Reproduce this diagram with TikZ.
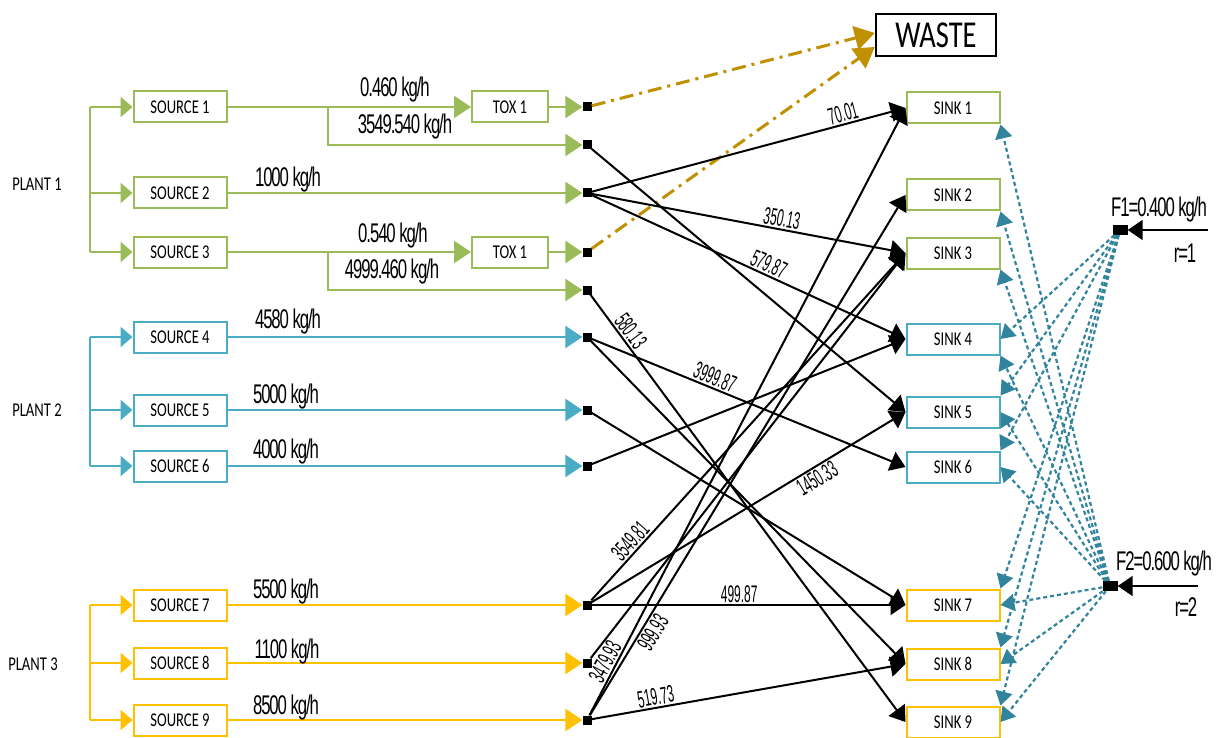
\documentclass[tikz,border=0pt]{standalone}
\usepackage{fontspec}
\usepackage{tikz}
\usetikzlibrary{arrows.meta,calc}
\newfontfamily\boxfont[FakeStretch=0.75]{Carlito}
\newfontfamily\flowfont[FakeStretch=0.62,LetterSpace=-4]{Liberation Sans}
\newfontfamily\valfont[FakeStretch=0.5]{Liberation Sans}
\definecolor{plantgreen}{HTML}{9BBB59}
\definecolor{plantblue}{HTML}{4BACC6}
\definecolor{plantyellow}{HTML}{FFC000}
\definecolor{wastegold}{HTML}{BF9000}
\definecolor{freshteal}{HTML}{31849B}
\newcommand{\boxw}{93pt}
\newcommand{\boxh}{31pt}

\begin{document}
\begin{tikzpicture}[x=1pt,y=-1pt]
    \tikzset{
        unitbox/.style = {draw, line width=2pt, fill=white, minimum width=\boxw, minimum height=\boxh, inner sep=0pt, font=\boxfont\fontsize{19.5}{19.5}\selectfont},
        greenbox/.style = {unitbox, draw=plantgreen},
        bluebox/.style = {unitbox, draw=plantblue},
        yellowbox/.style = {unitbox, draw=plantyellow},
        toxbox/.style = {greenbox, minimum width=76pt},
        plantlabel/.style = {inner sep=0pt, font=\boxfont\fontsize{19.5}{19.5}\selectfont},
        mixer/.style = {fill=black, minimum size=9pt, inner sep=0pt},
        feed/.style = {line width=2.5pt, -{Triangle[length=12pt,width=20pt]}},
        flow/.style = {line width=2.5pt, -{Triangle[length=17pt,width=22pt]}},
        trunk/.style = {line width=2.5pt},
        flowlabel/.style = {inner sep=0pt, font=\flowfont\fontsize{27}{27}\selectfont},
        link/.style = {line width=2pt, -{Triangle[length=15pt,width=20pt]}},
        value/.style = {sloped, inner sep=1.5pt, font=\valfont\fontsize{24}{24}\selectfont},
        toxic/.style = {wastegold, line width=3pt, dash pattern=on 14pt off 6pt on 3pt off 6pt, -{Triangle[length=20pt,width=24pt]}},
        fresh/.style = {freshteal, line width=2.2pt, dash pattern=on 4pt off 3pt, -{Triangle[length=14pt,width=17pt]}}
    }
    %\draw[help lines] (0,0) grid[step=50] (1223,738);
    \fill[white] (0,0) rectangle (1223,738);
    \useasboundingbox (0,0) rectangle (1223,738);

    % plants
    \node[plantlabel] (plant1) at (37,184) {PLANT 1};
    \node[plantlabel] (plant2) at (37,410) {PLANT 2};
    \node[plantlabel] (plant3) at (33,664) {PLANT 3};
    \coordinate (p1trunk) at (90,107);
    \coordinate (p2trunk) at (90,337);
    \coordinate (p3trunk) at (90,605);

    % sources
    \node[greenbox] (s1) at (180,107) {SOURCE 1};
    \node[greenbox] (s2) at (180,193) {SOURCE 2};
    \node[greenbox] (s3) at (180,252) {SOURCE 3};
    \node[bluebox] (s4) at (180,337) {SOURCE 4};
    \node[bluebox] (s5) at (180,410) {SOURCE 5};
    \node[bluebox] (s6) at (180,466) {SOURCE 6};
    \node[yellowbox] (s7) at (180,605) {SOURCE 7};
    \node[yellowbox] (s8) at (180,663) {SOURCE 8};
    \node[yellowbox] (s9) at (180,720) {SOURCE 9};

    \node[toxbox] (t1) at (510,107) {TOX 1};
    \node[toxbox] (t3) at (510,252) {TOX 1};

    % mixing points
    \node[mixer] (q1) at (587,107) {};
    \node[mixer] (q1b) at (587,145) {};
    \node[mixer] (q2) at (587,193) {};
    \node[mixer] (q3) at (587,252) {};
    \node[mixer] (q3b) at (587,290) {};
    \node[mixer] (q4) at (587,337) {};
    \node[mixer] (q5) at (587,410) {};
    \node[mixer] (q6) at (587,466) {};
    \node[mixer] (q7) at (587,605) {};
    \node[mixer] (q8) at (587,663) {};
    \node[mixer] (q9) at (587,720) {};
    \coordinate (br1) at (328,107);
    \coordinate (br3) at (328,252);

    % sinks
    \node[greenbox] (sink1) at (953,108) {SINK 1};
    \node[greenbox] (sink2) at (953,195) {SINK 2};
    \node[greenbox] (sink3) at (953,253) {SINK 3};
    \node[bluebox] (sink4) at (953,339) {SINK 4};
    \node[bluebox] (sink5) at (953,412) {SINK 5};
    \node[bluebox] (sink6) at (953,467) {SINK 6};
    \node[yellowbox] (sink7) at (953,605) {SINK 7};
    \node[yellowbox] (sink8) at (953,664) {SINK 8};
    \node[yellowbox] (sink9) at (953,722) {SINK 9};

    \node[draw, line width=2.5pt, minimum width=120pt, minimum height=42pt, inner sep=0pt, font=\boxfont\fontsize{38}{38}\selectfont] (waste) at (936,35) {WASTE};

    % fresh water
    \node[fill=black, minimum width=15pt, minimum height=10pt, inner sep=0pt] (f1) at (1120,230) {};
    \node[fill=black, minimum width=15pt, minimum height=10pt, inner sep=0pt] (f2) at (1110,586) {};
    \coordinate (f1in) at (1208,230);
    \coordinate (f2in) at (1198,586);
    \node[flowlabel] (f1lab) at (1159,210) {F1=0.400 kg/h};
    \node[flowlabel] (f1r) at (1185,253) {r=1};
    \node[flowlabel] (f2lab) at (1164,564) {F2=0.600 kg/h};
    \node[flowlabel] (f2r) at (1186,607) {r=2};

    % plant trunks
    \draw[trunk, plantgreen] (p1trunk |- s1) -- (p1trunk |- s3);
    \draw[feed, plantgreen] (p1trunk |- s1) -- (s1);
    \draw[feed, plantgreen] (p1trunk |- s2) -- (s2);
    \draw[feed, plantgreen] (p1trunk |- s3) -- (s3);
    \draw[trunk, plantblue] (p2trunk |- s4) -- (p2trunk |- s6);
    \draw[feed, plantblue] (p2trunk |- s4) -- (s4);
    \draw[feed, plantblue] (p2trunk |- s5) -- (s5);
    \draw[feed, plantblue] (p2trunk |- s6) -- (s6);
    \draw[trunk, plantyellow] (p3trunk |- s7) -- (p3trunk |- s9);
    \draw[feed, plantyellow] (p3trunk |- s7) -- (s7);
    \draw[feed, plantyellow] (p3trunk |- s8) -- (s8);
    \draw[feed, plantyellow] (p3trunk |- s9) -- (s9);

    % source flows
    \draw[flow, plantgreen] (s1) -- (t1);
    \draw[flow, plantgreen] (t1) -- (q1);
    \draw[flow, plantgreen] (br1) |- (q1b);
    \draw[flow, plantgreen] (s2) -- (q2);
    \draw[flow, plantgreen] (s3) -- (t3);
    \draw[flow, plantgreen] (t3) -- (q3);
    \draw[flow, plantgreen] (br3) |- (q3b);
    \draw[flow, plantblue] (s4) -- (q4);
    \draw[flow, plantblue] (s5) -- (q5);
    \draw[flow, plantblue] (s6) -- (q6);
    \draw[flow, plantyellow] (s7) -- (q7);
    \draw[flow, plantyellow] (s8) -- (q8);
    \draw[flow, plantyellow] (s9) -- (q9);

    \node[flowlabel] (m1) at (395,90) {0.460 kg/h};
    \node[flowlabel] (m1b) at (405,127) {3549.540 kg/h};
    \node[flowlabel] (m2) at (288,180) {1000 kg/h};
    \node[flowlabel] (m3) at (393,236) {0.540 kg/h};
    \node[flowlabel] (m3b) at (392,272) {4999.460 kg/h};
    \node[flowlabel] (m4) at (288,322) {4580 kg/h};
    \node[flowlabel] (m5) at (286,397) {5000 kg/h};
    \node[flowlabel] (m6) at (286,452) {4000 kg/h};
    \node[flowlabel] (m7) at (286,592) {5500 kg/h};
    \node[flowlabel] (m8) at (287,652) {1100 kg/h};
    \node[flowlabel] (m9) at (286,708) {8500 kg/h};

    % waste
    \draw[toxic] (q1) -- ([yshift=2pt]waste.west);
    \draw[toxic] (q3) -- ([yshift=-12pt]waste.west);

    % reuse
    \draw[link] (q2) -- node[value, above, pos=.81] (v1) {70.01} (sink1.west);
    \draw[link] (q2) -- node[value, above, pos=.6] (v2) {350.13} (sink3.west);
    \draw[link] (q2) -- node[value, above, pos=.55] (v3) {579.87} (sink4.west);
    \draw[link] (q1b) -- (sink5.west);
    \draw[link] (q3b) -- node[value, above, pos=.1] (v4) {580.13} (sink9.west);
    \draw[link] (q4) -- node[value, above, pos=.38] (v5) {3999.87} (sink6.west);
    \draw[link] (q4) -- (sink8.west);
    \draw[link] (q5) -- (sink7.west);
    \draw[link] (q6) -- (sink4.west);
    \draw[link] (q7) -- node[value, above, pos=.15] (v6) {3549.81} (sink3.west);
    \draw[link] (q7) -- node[value, below, pos=.7] (v7) {1450.33} (sink5.west);
    \draw[link] (q7) -- node[value, above, pos=.47] (v8) {499.87} (sink7.west);
    \draw[link] (q8) -- (sink3.west);
    \draw[link] (q9) -- node[value, above, pos=.08] (v9) {3479.93} (sink1.west);
    \draw[link] (q9) -- node[value, below, pos=.17] (v10) {999.93} (sink2.west);
    \draw[link] (q9) -- node[value, above, pos=.21] (v11) {519.73} (sink8.west);

    % fresh water
    \draw[link] (f1in) -- (f1);
    \draw[link] (f2in) -- (f2);
    \draw[fresh] (f1) -- (sink4.east);
    \draw[fresh] (f1) -- (sink5.north east);
    \draw[fresh] (f1) -- (sink6.north east);
    \draw[fresh] (f1) -- (sink7.north east);
    \draw[fresh] (f1) -- (sink8.north east);
    \draw[fresh] (f1) -- (sink9.north east);
    \draw[fresh] (f2) -- (sink1.south east);
    \draw[fresh] (f2) -- (sink2.south east);
    \draw[fresh] (f2) -- (sink3.south east);
    \draw[fresh] (f2) -- (sink4.south east);
    \draw[fresh] (f2) -- (sink5.east);
    \draw[fresh] (f2) -- (sink6.east);
    \draw[fresh] (f2) -- (sink7.east);
    \draw[fresh] (f2) -- (sink8.east);
    \draw[fresh] (f2) -- (sink9.east);
\end{tikzpicture}
\end{document}
